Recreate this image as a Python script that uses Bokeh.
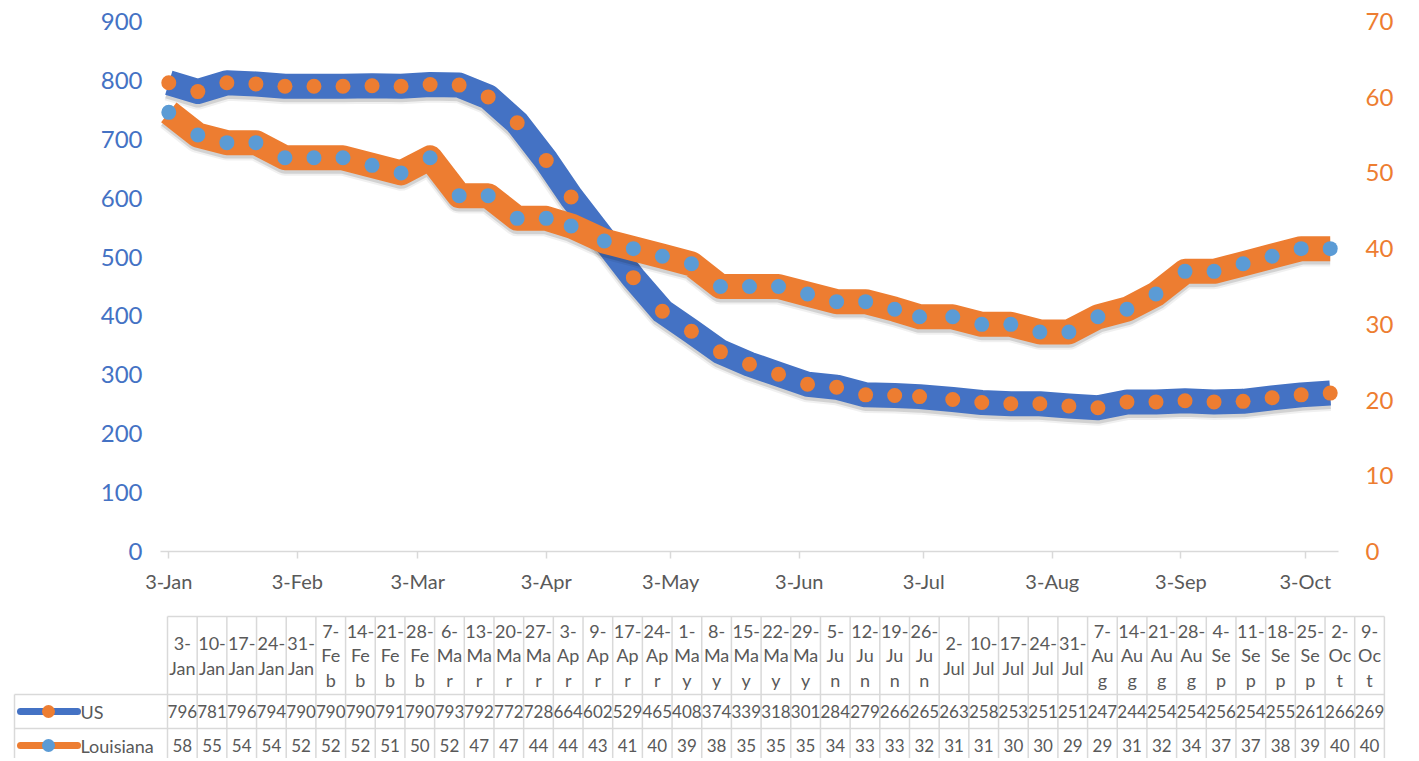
import pandas as pd
from bokeh.plotting import figure
from bokeh.models import Range1d, LinearAxis, FixedTicker, ColumnDataSource, DatetimeTickFormatter
from bokeh.layouts import column
from bokeh.embed import file_html
from bokeh.resources import INLINE
from bokeh.core.properties import value

# ---------------- data ----------------
categories = ["3-Jan", "10-Jan", "17-Jan", "24-Jan", "31-Jan", "7-Feb", "14-Feb", "21-Feb",
              "28-Feb", "6-Mar", "13-Mar", "20-Mar", "27-Mar", "3-Apr", "9-Apr", "17-Apr",
              "24-Apr", "1-May", "8-May", "15-May", "22-May", "29-May", "5-Jun", "12-Jun",
              "19-Jun", "26-Jun", "2-Jul", "10-Jul", "17-Jul", "24-Jul", "31-Jul", "7-Aug",
              "14-Aug", "21-Aug", "28-Aug", "4-Sep", "11-Sep", "18-Sep", "25-Sep", "2-Oct", "9-Oct"]
us = [796, 781, 796, 794, 790, 790, 790, 791, 790, 793, 792, 772, 728, 664, 602, 529, 465,
      408, 374, 339, 318, 301, 284, 279, 266, 265, 263, 258, 253, 251, 251, 247, 244, 254,
      254, 256, 254, 255, 261, 266, 269]
louisiana = [58, 55, 54, 54, 52, 52, 52, 51, 50, 52, 47, 47, 44, 44, 43, 41, 40, 39, 38, 35,
             35, 35, 34, 33, 33, 32, 31, 31, 30, 30, 29, 29, 31, 32, 34, 37, 37, 38, 39, 40, 40]
series_names = ["US", "Louisiana"]
x_tick_labels = ["3-Jan", "3-Feb", "3-Mar", "3-Apr", "3-May", "3-Jun", "3-Jul", "3-Aug",
                 "3-Sep", "3-Oct"]
left_ticks = [0, 100, 200, 300, 400, 500, 600, 700, 800, 900]
right_ticks = [0, 10, 20, 30, 40, 50, 60, 70]
YEAR = 2020

# ---------------- styles ----------------
BLUE = "#4472C4"
ORANGE = "#ED7D31"
LIGHT_BLUE = "#5B9BD5"
GRAY_TXT = "#595959"
GRID = "#D9D9D9"
FONT = "Lato"
W = 1411

EPOCH = pd.Timestamp("1970-01-01")


def to_ms(ts):
    return float((ts - EPOCH) // pd.Timedelta("1ms"))


dates = pd.to_datetime([f"{c}-{YEAR}" for c in categories], format="%d-%b-%Y")
tick_dates = pd.to_datetime([f"{c}-{YEAR}" for c in x_tick_labels], format="%d-%b-%Y")
tick_ms = [to_ms(t) for t in tick_dates]

x_start = to_ms(dates[0] - pd.Timedelta(days=2))
x_end = to_ms(dates[-1] + pd.Timedelta(days=2))

src = ColumnDataSource(dict(
    x=dates,
    us=us,
    la=louisiana,
    us_sh=[v - 6 for v in us],
    la_sh=[v - 0.45 for v in louisiana],
))

p = figure(width=W, height=608, x_axis_type="datetime",
           x_range=Range1d(x_start, x_end), y_range=Range1d(0, 900),
           output_backend="svg", toolbar_location=None,
           min_border_left=160, min_border_right=73, min_border_top=21, min_border_bottom=57)
p.frame_align = False
p.extra_y_ranges = {"right": Range1d(0, 70)}
p.xgrid.grid_line_color = None
p.ygrid.grid_line_color = None
p.outline_line_color = None
p.background_fill_color = "white"
p.border_fill_color = "white"

# x axis
xa = p.xaxis[0]
xa.ticker = FixedTicker(ticks=tick_ms)
xa.formatter = DatetimeTickFormatter(days="%-d-%b", months="%-d-%b", years="%-d-%b")
xa.major_label_overrides = {ms: lab for ms, lab in zip(tick_ms, x_tick_labels)}
xa.axis_line_color = GRID
xa.axis_line_width = 1.5
xa.major_tick_line_color = GRID
xa.major_tick_line_width = 1.5
xa.major_tick_out = 7
xa.major_tick_in = 0
xa.minor_tick_line_color = None
xa.major_label_standoff = 10
xa.major_label_text_font = FONT
xa.major_label_text_font_size = "20px"
xa.major_label_text_color = GRAY_TXT

# left axis
ya = p.yaxis[0]
ya.ticker = FixedTicker(ticks=left_ticks)
ya.axis_line_color = None
ya.major_tick_line_color = None
ya.minor_tick_line_color = None
ya.major_tick_out = 0
ya.major_tick_in = 0
ya.major_label_standoff = 18
ya.major_label_text_font = FONT
ya.major_label_text_font_size = "24px"
ya.major_label_text_color = BLUE

# right axis
ra = LinearAxis(y_range_name="right", ticker=FixedTicker(ticks=right_ticks))
ra.axis_line_color = None
ra.major_tick_line_color = None
ra.minor_tick_line_color = None
ra.major_tick_out = 0
ra.major_tick_in = 0
ra.major_label_standoff = 27
ra.major_label_text_font = FONT
ra.major_label_text_font_size = "24px"
ra.major_label_text_color = ORANGE
p.add_layout(ra, "right")

# US series (primary axis)
p.line("x", "us_sh", source=src, line_width=29, line_color="black", line_alpha=0.06,
       line_join="round", line_cap="butt")
p.line("x", "us_sh", source=src, line_width=25, line_color="black", line_alpha=0.12,
       line_join="round", line_cap="butt")
p.line("x", "us", source=src, line_width=25, line_color=BLUE, line_join="round", line_cap="butt")
p.scatter("x", "us", source=src, size=15, fill_color=ORANGE, line_color=None)

# Louisiana series (secondary axis)
p.line("x", "la_sh", source=src, y_range_name="right", line_width=29, line_color="black",
       line_alpha=0.06, line_join="round", line_cap="butt")
p.line("x", "la_sh", source=src, y_range_name="right", line_width=25, line_color="black",
       line_alpha=0.12, line_join="round", line_cap="butt")
p.line("x", "la", source=src, y_range_name="right", line_width=25, line_color=ORANGE,
       line_join="round", line_cap="butt")
p.scatter("x", "la", source=src, y_range_name="right", size=15, fill_color=LIGHT_BLUE,
          line_color=None)

# ---------------- data table ----------------
n = len(categories)
col_w = 29.68
col0 = 167.0
TH = 150
tx0 = (0.0 - col0) / col_w
tx1 = (W - col0) / col_w
legend_left = (14.0 - col0) / col_w

t = figure(width=W, height=TH, x_range=Range1d(tx0, tx1), y_range=Range1d(TH, 0),
           output_backend="svg", toolbar_location=None, min_border=0,
           x_axis_location=None, y_axis_location=None)
t.frame_align = False
t.xgrid.grid_line_color = None
t.ygrid.grid_line_color = None
t.outline_line_color = None

hdr_top, row1_top, row2_top, row2_bot = 8, 86, 120, 154
# vertical lines
vx = list(range(n + 1))
t.segment(x0=vx, y0=[hdr_top] * len(vx), x1=vx, y1=[row2_bot] * len(vx),
          line_color=GRID, line_width=1.5)
t.segment(x0=[legend_left], y0=[row1_top], x1=[legend_left], y1=[row2_bot],
          line_color=GRID, line_width=1.5)
# horizontal lines
t.segment(x0=[0, legend_left, legend_left], y0=[hdr_top, row1_top, row2_top],
          x1=[n, n, n], y1=[hdr_top, row1_top, row2_top], line_color=GRID, line_width=1.5)


def wrap(lbl):
    day, mon = lbl.split("-")
    if mon in ("Jan", "Jul"):
        return f"{day}-\n{mon}"
    return f"{day}-\n{mon[:2]}\n{mon[2:]}"


centers = [i + 0.5 for i in range(n)]
t.text(x=centers, y=[(hdr_top + row1_top) / 2] * n, text=[wrap(c) for c in categories],
       text_align="center", text_baseline="middle", text_font=value(FONT),
       text_font_size="18px", text_line_height=1.1, text_color=GRAY_TXT)
t.text(x=centers, y=[(row1_top + row2_top) / 2] * n, text=[str(v) for v in us],
       text_align="center", text_baseline="middle", text_font=value(FONT),
       text_font_size="17px", text_color=GRAY_TXT)
t.text(x=centers, y=[(row2_top + row2_bot) / 2] * n, text=[str(v) for v in louisiana],
       text_align="center", text_baseline="middle", text_font=value(FONT),
       text_font_size="17px", text_color=GRAY_TXT)

# legend keys inside the table
lx0 = (20.0 - col0) / col_w
lx1 = (77.0 - col0) / col_w
lxm = (48.0 - col0) / col_w
ltx = (80.0 - col0) / col_w
row_y = [(row1_top + row2_top) / 2, (row2_top + row2_bot) / 2]
line_cols = [BLUE, ORANGE]
mark_cols = [ORANGE, LIGHT_BLUE]
t.segment(x0=[lx0, lx0], y0=row_y, x1=[lx1, lx1], y1=row_y, line_color=line_cols,
          line_width=7, line_cap="round")
t.scatter(x=[lxm, lxm], y=row_y, size=13, fill_color=mark_cols, line_color=None)
t.text(x=[ltx, ltx], y=row_y, text=series_names, text_align="left", text_baseline="middle",
       text_font=value(FONT), text_font_size="18px", text_color=GRAY_TXT)

layout = column(p, t, spacing=0)
open("out.html", "w").write(file_html(layout, INLINE))
